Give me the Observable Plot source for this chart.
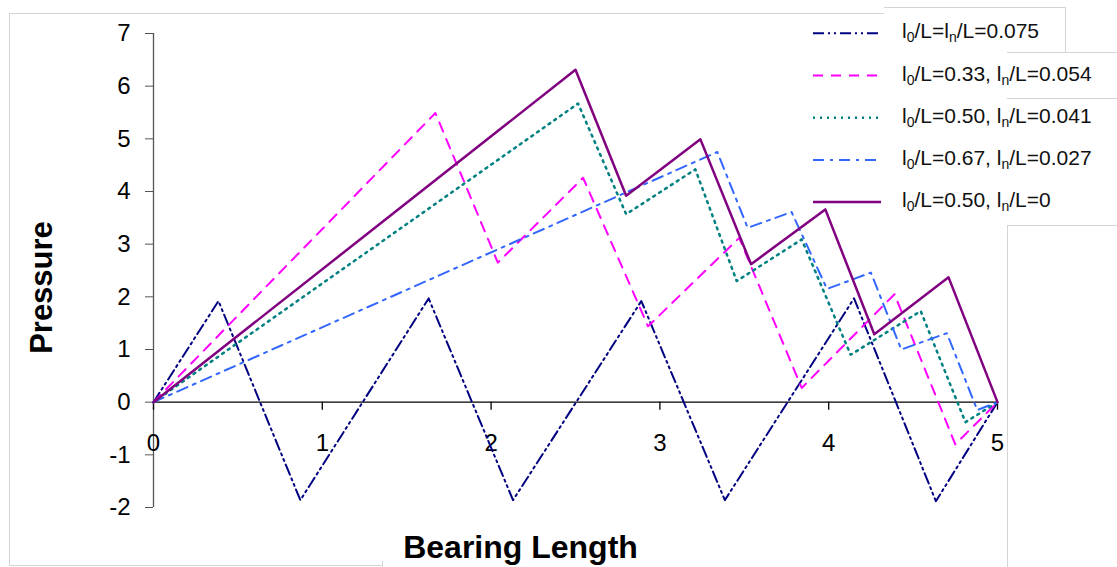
<!DOCTYPE html>
<html>
<head>
<meta charset="utf-8">
<script src="https://cdn.jsdelivr.net/npm/d3@7"></script>
<script src="https://cdn.jsdelivr.net/npm/@observablehq/plot@0.6"></script>
<style>
  html, body { margin: 0; padding: 0; background: #fff; }
  #wrap { position: relative; width: 1117px; height: 567px; overflow: hidden; font-family: "Liberation Sans", Arial, sans-serif; }
  #wrap > svg { position: absolute; left: 0; top: 0; }
  .hl { position: absolute; height: 0; border-top: 1px solid #d4d4d4; }
  .vl { position: absolute; width: 0; border-left: 1px solid #d4d4d4; }
</style>
</head>
<body>
<div id="wrap">
  <div class="vl" style="left:9px; top:13px; height:552px;"></div>
  <div class="hl" style="left:9px; top:13px; width:875px;"></div>
  <div class="hl" style="left:9px; top:565px; width:373px;"></div>
  <div class="vl" style="left:382px; top:561px; height:6px;"></div>
  <div class="hl" style="left:884px; top:7px; width:181px;"></div>
  <div class="vl" style="left:1065px; top:7px; height:45px;"></div>
  <div class="hl" style="left:1007px; top:52px; width:110px;"></div>
  <div class="hl" style="left:1007px; top:98px; width:110px;"></div>
  <div class="hl" style="left:1007px; top:225px; width:110px;"></div>
  <div class="vl" style="left:1007px; top:225px; height:342px;"></div>
</div>
<script>
// ---- data ----
const xTicks = [0, 1, 2, 3, 4, 5];
const yTicks = [-2, -1, 0, 1, 2, 3, 4, 5, 6, 7];

const seriesNames = [
  "l0/L=ln/L=0.075",
  "l0/L=0.33, ln/L=0.054",
  "l0/L=0.50, ln/L=0.041",
  "l0/L=0.67, ln/L=0.027",
  "l0/L=0.50, ln/L=0"
];
// legend labels split into [text, isSubscript] runs
const legendRuns = [
  [["l",0],["0",1],["/L=l",0],["n",1],["/L=0.075",0]],
  [["l",0],["0",1],["/L=0.33, l",0],["n",1],["/L=0.054",0]],
  [["l",0],["0",1],["/L=0.50, l",0],["n",1],["/L=0.041",0]],
  [["l",0],["0",1],["/L=0.67, l",0],["n",1],["/L=0.027",0]],
  [["l",0],["0",1],["/L=0.50, l",0],["n",1],["/L=0",0]]
];

const lenA = [0, 0.385, 0.87, 1.63, 2.13, 2.89, 3.385, 4.15, 4.635, 5];
const presA = [0, 1.92, -1.86, 1.97, -1.86, 1.92, -1.86, 1.97, -1.88, 0];

const lenB = [0, 1.67, 2.04, 2.545, 2.93, 3.47, 3.84, 4.39, 4.75, 5];
const presB = [0, 5.49, 2.65, 4.26, 1.44, 3.12, 0.27, 2.05, -0.8, 0];

const lenC = [0, 2.515, 2.80, 3.21, 3.455, 3.84, 4.13, 4.545, 4.81, 5];
const presC = [0, 5.67, 3.57, 4.42, 2.3, 3.09, 0.9, 1.73, -0.38, 0];

const lenD = [0, 3.34, 3.52, 3.78, 3.99, 4.25, 4.43, 4.70, 4.88, 5];
const presD = [0, 4.75, 3.31, 3.61, 2.15, 2.46, 1.0, 1.31, -0.15, 0];

const lenE = [0, 2.5, 2.8, 3.24, 3.54, 3.98, 4.27, 4.71, 5];
const presE = [0, 6.31, 3.92, 4.99, 2.62, 3.66, 1.29, 2.37, 0];

const colors = ["#000080", "#ff00ff", "#008080", "#3366ff", "#800080"];
const dashes = ["11,4,2,4,2,4", "10,8", "2,5", "11,6,3,6", null];
const widths = [2, 2, 2.5, 2, 2.5];

// ---- build table ----
const lens = [lenA, lenB, lenC, lenD, lenE];
const pres = [presA, presB, presC, presD, presE];
const series = lens.map((xs, s) => xs.map((x, i) => ({x, y: pres[s][i], s})));

const lineMarks = series.map((d, s) =>
  Plot.line(d, {x: "x", y: "y", stroke: colors[s], strokeWidth: widths[s],
    strokeDasharray: dashes[s] || undefined, strokeLinejoin: "round"}));

const chart = Plot.plot({
  width: 1117, height: 567,
  marginLeft: 153, marginRight: 120, marginTop: 33, marginBottom: 60,
  x: {domain: [0, 5], axis: null},
  y: {domain: [-2, 7], axis: null},
  style: {fontFamily: "'Liberation Sans', Arial, sans-serif", color: "#000", background: "transparent", overflow: "visible"},
  marks: [
    Plot.axisY({ticks: yTicks, tickFormat: d => String(d), tickSize: 8, tickPadding: 15, fontSize: 24, label: null, stroke: "#555"}),
    Plot.ruleX([0], {stroke: "#555", strokeWidth: 1.3}),
    Plot.ruleY([0], {stroke: "#000", strokeWidth: 1.3}),
    Plot.ruleX(xTicks, {x: d => d, y1: 0, y2: 0, insetBottom: -8, stroke: "#000", strokeWidth: 1.3}),
    Plot.text(xTicks, {x: d => d, y: 0, dy: 41, text: d => String(d), fontSize: 24, fill: "#000"}),
    ...lineMarks,
    Plot.text(["Pressure"], {frameAnchor: "left", textAnchor: "middle", lineAnchor: "middle", dx: -111, dy: 17, rotate: -90, fontSize: 31, fontWeight: "bold", fill: "#000"}),
    Plot.text(["Bearing Length"], {frameAnchor: "bottom", textAnchor: "middle", lineAnchor: "middle", dx: -55, dy: 40, fontSize: 32, fontWeight: "bold", fill: "#000"})
  ]
});
document.getElementById("wrap").appendChild(chart);

// ---- legend ----
const leg = d3.select("#wrap").append("svg")
  .attr("width", 1117).attr("height", 567)
  .style("position", "absolute").style("left", 0).style("top", 0)
  .style("font-family", "'Liberation Sans', Arial, sans-serif");
const rowY0 = 33.3, rowStep = 42.2;
seriesNames.forEach((name, s) => {
  const y = rowY0 + s * rowStep;
  leg.append("line").attr("x1", 813).attr("x2", 881).attr("y1", y).attr("y2", y)
    .attr("stroke", colors[s]).attr("stroke-width", widths[s])
    .attr("stroke-dasharray", dashes[s]);
  const t = leg.append("text").attr("x", 902).attr("y", y + 5)
    .attr("font-size", 21).attr("fill", "#111");
  let sub = false;
  legendRuns[s].forEach(([txt, isSub]) => {
    const sp = t.append("tspan").text(txt);
    if (isSub && !sub) { sp.attr("dy", 4).attr("font-size", 14); sub = true; }
    else if (isSub) { sp.attr("font-size", 14); }
    else if (!isSub && sub) { sp.attr("dy", -4); sub = false; }
  });
});
</script>
</body>
</html>
